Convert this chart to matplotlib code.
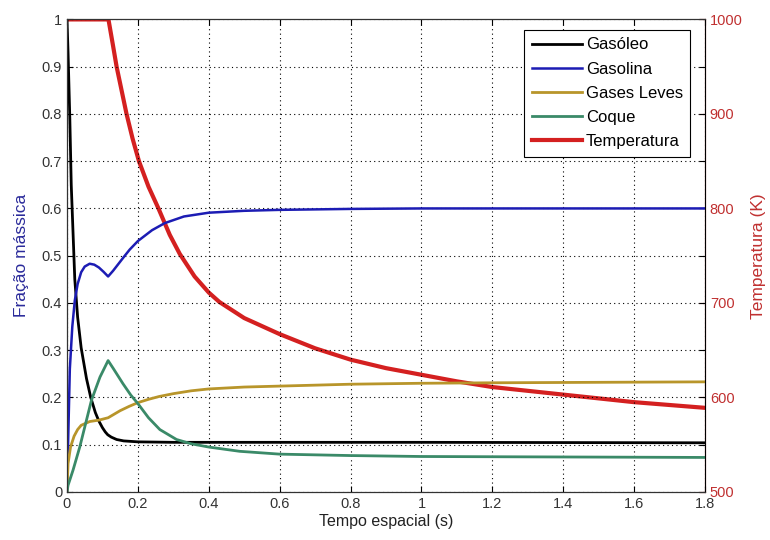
# Fração mássica e temperatura ao longo do tempo espacial

import matplotlib
matplotlib.use("Agg")
import matplotlib.pyplot as plt

plt.rcParams["font.family"] = ["Liberation Sans", "DejaVu Sans"]
plt.rcParams["font.size"] = 10

# dados
x_gasoleo = [0, 0.003, 0.008, 0.012, 0.017, 0.022, 0.03, 0.04, 0.055, 0.067, 0.08,
             0.09, 0.1, 0.108, 0.115, 0.125, 0.14, 0.16, 0.2, 0.3, 0.6, 1.0, 1.8]
gasoleo = [1.0, 0.93, 0.79, 0.65, 0.55, 0.45, 0.37, 0.305, 0.24, 0.2, 0.168,
           0.15, 0.136, 0.127, 0.121, 0.116, 0.111, 0.108, 0.106, 0.105, 0.105, 0.105, 0.104]

x_gasolina = [0, 0.003, 0.008, 0.015, 0.022, 0.03, 0.04, 0.05, 0.064, 0.077, 0.09,
              0.103, 0.116, 0.13, 0.16, 0.177, 0.2, 0.24, 0.276, 0.33, 0.4, 0.5,
              0.6, 0.8, 1.0, 1.8]
gasolina = [0.0, 0.10, 0.26, 0.35, 0.405, 0.44, 0.465, 0.477, 0.483, 0.481, 0.475,
            0.466, 0.456, 0.468, 0.497, 0.513, 0.531, 0.554, 0.569, 0.583, 0.591, 0.595,
            0.597, 0.599, 0.6, 0.6]

x_leves = [0, 0.003, 0.01, 0.02, 0.03, 0.04, 0.064, 0.09, 0.116, 0.15, 0.175, 0.2,
           0.23, 0.26, 0.3, 0.35, 0.4, 0.5, 0.6, 0.8, 1.0, 1.2, 1.5, 1.8]
leves = [0.0, 0.06, 0.095, 0.118, 0.132, 0.141, 0.149, 0.152, 0.157, 0.172, 0.181, 0.189,
         0.196, 0.202, 0.208, 0.214, 0.218, 0.222, 0.224, 0.228, 0.23, 0.231, 0.232, 0.233]

x_coque = [0, 0.003, 0.017, 0.036, 0.069, 0.093, 0.116, 0.13, 0.158, 0.18, 0.2,
           0.23, 0.262, 0.309, 0.35, 0.4, 0.487, 0.6, 0.8, 1.0, 1.4, 1.8]
coque = [0.0, 0.014, 0.046, 0.095, 0.194, 0.243, 0.278, 0.262, 0.229, 0.205, 0.187,
         0.157, 0.132, 0.111, 0.102, 0.095, 0.086, 0.08, 0.077, 0.075, 0.074, 0.073]

x_temp = [0, 0.117, 0.13, 0.14, 0.168, 0.185, 0.203, 0.23, 0.258, 0.29, 0.318, 0.36,
          0.4, 0.43, 0.5, 0.6, 0.7, 0.8, 0.9, 1.0, 1.1, 1.2, 1.4, 1.6, 1.8]
temperatura = [1000, 1000, 972, 950, 900, 874, 850, 823, 800, 772, 752, 728,
               711, 701, 684, 667, 652, 640, 631, 624, 617, 611, 603, 595, 589]

fig = plt.figure(figsize=(7.7, 5.4), dpi=100)
ax = fig.add_axes([0.087, 0.089, 0.8286, 0.875])
ax2 = ax.twinx()

l1, = ax.plot(x_gasoleo, gasoleo, color="black", lw=2, label="Gasóleo")
l2, = ax.plot(x_gasolina, gasolina, color="#1c1cb4", lw=1.8, label="Gasolina")
l3, = ax.plot(x_leves, leves, color="#b8952a", lw=2, label="Gases Leves")
l4, = ax.plot(x_coque, coque, color="#3a8a68", lw=2, label="Coque")
l5, = ax2.plot(x_temp, temperatura, color="#d42020", lw=3, label="Temperatura")

ax.set_xlim(0, 1.8)
ax.set_ylim(0, 1)
ax2.set_ylim(500, 1000)
ax.set_xticks([0, 0.2, 0.4, 0.6, 0.8, 1, 1.2, 1.4, 1.6, 1.8])
ax.set_xticklabels(["0", "0.2", "0.4", "0.6", "0.8", "1", "1.2", "1.4", "1.6", "1.8"])
ax.set_yticks([i / 10 for i in range(11)])
ax.set_yticklabels(["0", "0.1", "0.2", "0.3", "0.4", "0.5", "0.6", "0.7", "0.8", "0.9", "1"])
ax2.set_yticks(range(500, 1001, 100))

ax.grid(True, linestyle=(0, (1, 3)), color="black", lw=0.8)
ax.tick_params(direction="in", top=True, right=True, labelcolor="#333333",
               labelsize=10.5, length=4)
ax2.tick_params(direction="in", colors="#d42020", labelcolor="#c03030",
                labelsize=10.5, length=4)
for s in ["left", "bottom", "top"]:
    ax.spines[s].set_color("#333333")
ax2.spines["right"].set_color("#d42020")

ax.set_xlabel("Tempo espacial (s)", color="#222222", fontsize=11.5, labelpad=2)
ax.set_ylabel("Fração mássica", color="#2a2a9a", fontsize=12.5, labelpad=9)
ax2.set_ylabel("Temperatura (K)", color="#c03030", fontsize=12.5, labelpad=6)

leg = ax.legend(handles=[l1, l2, l3, l4, l5], loc="upper right", fontsize=12,
                bbox_to_anchor=(0.977, 0.978), borderaxespad=0, fancybox=False,
                edgecolor="black", framealpha=1, handlelength=3.0,
                handletextpad=0.25, labelspacing=0.55, borderpad=0.45)
leg.get_frame().set_linewidth(0.8)
leg.set_zorder(5)
ax.set_zorder(ax2.get_zorder() + 1)
ax.patch.set_visible(False)

fig.savefig("out.png", dpi=100)
